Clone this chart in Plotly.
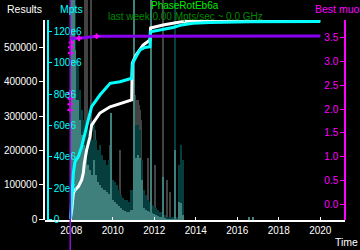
import plotly.graph_objects as go

# ---------------- data ----------------
# background activity histogram (arbitrary rate units, hidden axis 0..220)
bin_years = [2008.0, 2008.1, 2008.2, 2008.3, 2008.4, 2008.5, 2008.6, 2008.7, 2008.8, 2008.9,
             2009.0, 2009.1, 2009.2, 2009.3, 2009.4, 2009.5, 2009.6, 2009.7, 2009.8, 2009.9,
             2010.0, 2010.1, 2010.2, 2010.3, 2010.4, 2010.5, 2010.6, 2010.7, 2010.8, 2010.9,
             2011.0, 2011.1, 2011.2, 2011.3, 2011.4, 2011.5, 2011.6, 2011.7, 2011.8, 2011.9,
             2012.0, 2012.1, 2012.2, 2012.3, 2012.4, 2012.5, 2012.6, 2012.7, 2012.8, 2012.9,
             2013.0, 2013.1, 2013.2, 2013.3, 2013.4, 2013.5]
light_rate = [220, 220, 170, 120, 100, 85, 75, 65, 55, 50,
              45, 60, 45, 38, 35, 32, 30, 28, 26, 22,
              20, 18, 16, 14, 12, 10, 9, 8, 8, 10,
              55, 62, 65, 62, 40, 12, 10, 9, 8, 7,
              6, 5, 4, 3, 3, 2, 1, 1, 1, 1,
              2, 1, 18, 17, 5, 0]
dark_rate = [220, 220, 220, 160, 130, 110, 100, 95, 90, 85,
             80, 100, 80, 70, 75, 65, 60, 55, 60, 45,
             40, 38, 35, 30, 25, 22, 20, 20, 18, 30,
             90, 95, 95, 90, 60, 30, 25, 20, 18, 15,
             14, 12, 10, 8, 6, 5, 3, 3, 3, 3,
             5, 3, 55, 75, 60, 0]
grey_spike_years = [2008.67, 2008.74, 2008.97, 2009.14, 2009.87, 2010.35,
                    2011.02, 2011.07, 2011.12, 2011.17, 2011.22, 2011.27, 2011.32, 2011.37,
                    2011.70, 2012.03, 2012.40, 2012.60, 2012.75]
grey_spike_rate = [220, 220, 220, 90, 75, 70,
                   120, 125, 120, 118, 120, 115, 110, 100,
                   62, 55, 220, 40, 28]
dark_spike_years = [2013.0, 2013.27]
dark_spike_rate = [220, 73]
teal_spike_years = [2008.03, 2008.13, 2009.90, 2011.0, 2011.84, 2012.40, 2013.0, 2016.55, 2016.75]
teal_spike_rate = [220, 220, 107, 220, 220, 43, 70, 3, 3]

# Results (left white axis)
results_years = [2007.96, 2008.02, 2008.10, 2008.18, 2008.34, 2008.50, 2008.58, 2008.63, 2008.74,
                 2008.90, 2008.98, 2009.38, 2009.87, 2010.35, 2010.91, 2010.94, 2011.12, 2011.46,
                 2011.79, 2011.82, 2012.42, 2013.24, 2013.82, 2014.59, 2020.0]
results_values = [3800, 27000, 76500, 85000, 95000, 114500, 135000, 164000, 201500,
                  240000, 274000, 309000, 327000, 337000, 347000, 454000, 477600, 506700,
                  521000, 556000, 565000, 573500, 577300, 577300, 579000]

# Mpts (cyan axis)
mpts_years = [2007.96, 2008.02, 2008.10, 2008.18, 2008.34, 2008.50, 2008.63, 2008.69, 2008.90,
              2008.98, 2009.38, 2009.87, 2010.35, 2010.91, 2010.96, 2011.12, 2011.31, 2011.55,
              2011.79, 2011.82, 2012.27, 2012.90, 2013.32, 2013.87, 2014.68, 2016.60, 2020.0]
mpts_values = [0.2e6, 14.4e6, 29.6e6, 36.8e6, 40.0e6, 46.4e6, 52.8e6, 57.1e6, 67.9e6,
               72.0e6, 79.4e6, 86.9e6, 87.9e6, 90.1e6, 99.9e6, 103.9e6, 108.2e6, 109.8e6,
               110.3e6, 119.9e6, 121.0e6, 122.6e6, 124.2e6, 125.2e6, 125.7e6, 126.2e6, 126.4e6]

# Best muon (magenta axis)
muon_years = [2008.01, 2008.03, 2008.37, 2009.22, 2020.0]
muon_values = [3.45, 3.49, 3.49, 3.53, 3.535]
muon_mark_years = [2007.95, 2007.95, 2007.95, 2007.95, 2007.97, 2007.98, 2008.00, 2008.37, 2009.22]
muon_mark_values = [2.34, 2.22, 2.10, 1.98, 3.18, 3.30, 3.40, 3.49, 3.53]

results_ticks = [0, 100000, 200000, 300000, 400000, 500000]
results_ticktext = ["0", "100000", "200000", "300000", "400000", "500000"]
mpts_ticks = [0, 20e6, 40e6, 60e6, 80e6, 100e6, 120e6]
mpts_ticktext = ["0", "20e6", "40e6", "60e6", "80e6", "100e6", "120e6"]
muon_ticks = [0.0, 0.5, 1.0, 1.5, 2.0, 2.5, 3.0, 3.5]

# ---------------- figure ----------------
X_RANGE = [2006.733, 2021.19]
FONT = "Liberation Sans"
LIGHT = "rgb(64,128,124)"
DARK = "rgb(6,62,62)"
GREY = "rgb(66,66,66)"

fig = go.Figure()

fig.add_trace(go.Bar(x=grey_spike_years, y=grey_spike_rate, width=0.05, marker_color=GREY,
                     marker_line_width=0, yaxis="y"))
fig.add_trace(go.Bar(x=bin_years, y=dark_rate, width=0.1, marker_color=DARK,
                     marker_line_width=0, yaxis="y"))
fig.add_trace(go.Bar(x=dark_spike_years, y=dark_spike_rate, width=0.05, marker_color=DARK,
                     marker_line_width=0, yaxis="y"))
fig.add_trace(go.Bar(x=bin_years, y=light_rate, width=0.1, marker_color=LIGHT,
                     marker_line_width=0, yaxis="y"))
fig.add_trace(go.Bar(x=teal_spike_years, y=teal_spike_rate, width=0.05, marker_color=LIGHT,
                     marker_line_width=0, yaxis="y"))

fig.add_trace(go.Scatter(x=results_years, y=results_values, mode="lines",
                         line=dict(color="white", width=3), yaxis="y2"))
fig.add_trace(go.Scatter(x=mpts_years, y=mpts_values, mode="lines",
                         line=dict(color="#00ffff", width=3), yaxis="y3"))
fig.add_trace(go.Scatter(x=muon_years, y=muon_values, mode="lines",
                         line=dict(color="#8a00f0", width=3), yaxis="y4"))
fig.add_trace(go.Scatter(x=muon_mark_years, y=muon_mark_values, mode="markers",
                         marker=dict(symbol="cross-thin", size=4, color="#ff00ff",
                                     line=dict(color="#ff00ff", width=2)),
                         yaxis="y4"))

# vertical purple marker at the first muon timestamp
first_x_paper = (muon_mark_years[0] - X_RANGE[0]) / (X_RANGE[1] - X_RANGE[0])
fig.add_shape(type="line", xref="paper", yref="paper", x0=first_x_paper, x1=first_x_paper,
              y0=-0.2, y1=1.0, line=dict(color="#9010d0", width=1.5), layer="above")

dom_top = 200 / 220
tickfont_white = dict(family=FONT, size=10, color="white")

fig.update_layout(
    width=360, height=250,
    margin=dict(l=45, r=15, t=0, b=30, pad=0),
    paper_bgcolor="black", plot_bgcolor="rgba(0,0,0,0)",
    showlegend=False, barmode="overlay", bargap=0,
    xaxis=dict(range=X_RANGE, tick0=2008, dtick=2, showgrid=False, zeroline=False,
               showline=True, linecolor="white", linewidth=1.5, ticks="inside", ticklen=3,
               tickcolor="white", tickfont=tickfont_white, anchor="y", automargin=False),
    yaxis=dict(domain=[0, 1], range=[0, 220], visible=False, fixedrange=True),
    yaxis2=dict(domain=[0, dom_top], range=[-2000, 579400], anchor="x", side="left",
                showgrid=False, zeroline=False, showline=True, linecolor="white", linewidth=1.5,
                ticks="outside", ticklen=4, tickcolor="white", tickvals=results_ticks,
                ticktext=results_ticktext, tickfont=tickfont_white, automargin=False),
    yaxis3=dict(overlaying="y2", anchor="free", position=0.01, side="right",
                range=[-0.45e6, 127.35e6], showgrid=False, zeroline=False, showline=True,
                linecolor="#00ffff", linewidth=1.5, ticks="outside", ticklen=3, tickcolor="#00ffff",
                tickvals=mpts_ticks, ticktext=mpts_ticktext,
                tickfont=dict(family=FONT, size=10, color="#00ffff"), automargin=False),
    yaxis4=dict(overlaying="y2", anchor="free", position=1.0, side="left",
                range=[-0.33, 3.872], showgrid=False, zeroline=False, showline=True,
                linecolor="#ff00ff", linewidth=1.5, ticks="outside", ticklen=4, tickcolor="#ff00ff",
                tickvals=muon_ticks, tickformat=".1f",
                tickfont=dict(family=FONT, size=10, color="#ff00ff"), automargin=False),
)

def label(text, x, y, color, xanchor="left", size=10.5):
    fig.add_annotation(text=text, x=x, y=y, xref="paper", yref="paper", xanchor=xanchor,
                       yanchor="middle", showarrow=False,
                       font=dict(family=FONT, size=size, color=color))

label("Results", -0.1333, 0.959, "white")
label("Mpts", 0.0433, 0.959, "#00ffff")
label("PhaseRotEb6a", 0.465, 0.977, "#00ee00", xanchor="center", size=10)
label("last week 0.00 Mpts/sec ~ 0.0 GHz", 0.467, 0.925, "#008a00", xanchor="center", size=10)
label("Best muon", 0.893, 0.959, "#ff00ff")
label("Time", 0.96, -0.1, "white")

fig.write_html("out.html")
